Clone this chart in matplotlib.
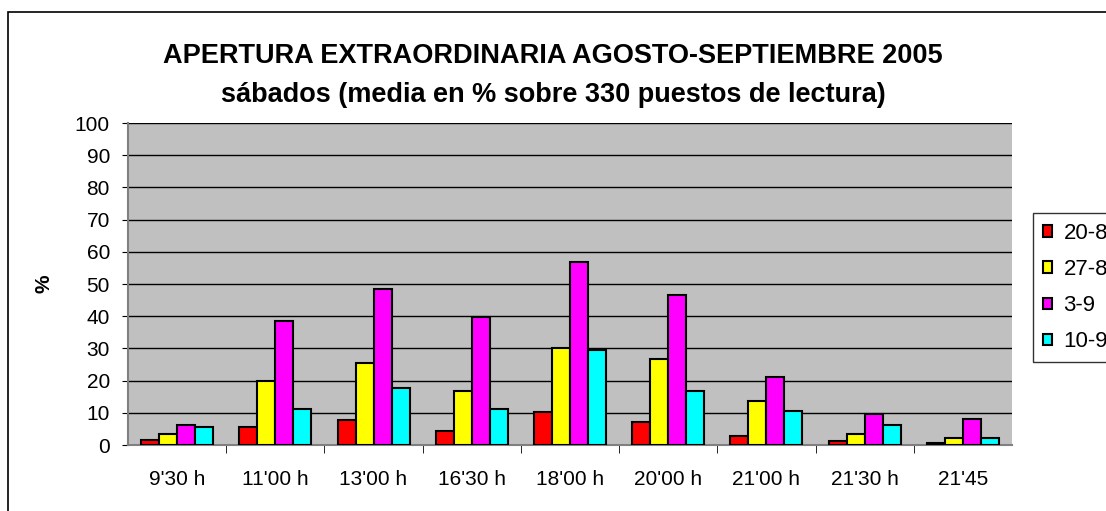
import matplotlib.pyplot as plt
import matplotlib.patches as mpatches
import numpy as np

plt.rcParams['font.family'] = ['Liberation Sans', 'DejaVu Sans']

horas = ["9'30 h", "11'00 h", "13'00 h", "16'30 h", "18'00 h", "20'00 h", "21'00 h", "21'30 h", "21'45"]
s_20_8 = [1.6, 5.7, 7.9, 4.4, 10.1, 7.2, 2.8, 1.1, 0.6]
s_27_8 = [3.4, 19.9, 25.6, 16.9, 30.1, 26.7, 13.7, 3.4, 2.3]
s_3_9 = [6.2, 38.6, 48.4, 39.8, 56.8, 46.6, 21.1, 9.6, 8.0]
s_10_9 = [5.7, 11.3, 17.6, 11.2, 29.4, 16.9, 10.7, 6.2, 2.2]

series = [("20-8", s_20_8, '#FF0000'), ("27-8", s_27_8, '#FFFF00'),
          ("3-9", s_3_9, '#FF00FF'), ("10-9", s_10_9, '#00FFFF')]

fig = plt.figure(figsize=(11.06, 5.11), dpi=100)
ax = fig.add_axes([128/1106, 1-445/511, (1012-128)/1106, (445-123)/511])
ax.set_facecolor('#C0C0C0')

x = np.arange(len(horas))
w = 0.183
for i, (name, vals, col) in enumerate(series):
    ax.bar(x + (i - 1.5)*w, vals, w, color=col, edgecolor='black', linewidth=1.5,
           label=name, zorder=3)

ax.set_xlim(-0.5, len(horas) - 0.5)
ax.set_ylim(0, 100)
ax.set_yticks(np.arange(0, 101, 10))
ax.yaxis.grid(True, color='black', linewidth=1, zorder=1)
ax.set_axisbelow(True)
ax.set_xticks(x)
ax.set_xticklabels(horas)
ax.tick_params(axis='x', length=0, labelsize=15, pad=18)
ax.set_xticks(np.arange(0.5, len(horas) - 0.5, 1), minor=True)
ax.tick_params(axis='x', which='minor', length=6, color='black', direction='out')
ax.tick_params(axis='y', length=4, labelsize=15, direction='out', pad=9)
for side in ['top', 'right']:
    ax.spines[side].set_visible(False)
ax.spines['left'].set_color('#808080')
ax.spines['left'].set_linewidth(1.5)
ax.spines['bottom'].set_color('#808080')
ax.spines['bottom'].set_linewidth(1.5)

ax.set_ylabel('%', fontsize=15, fontweight='bold', labelpad=15)

fig.text(0.5, 1-56/511, 'APERTURA EXTRAORDINARIA AGOSTO-SEPTIEMBRE 2005',
         ha='center', va='center', fontsize=19.5, fontweight='bold')
fig.text(0.5, 1-95/511, 'sábados (media en % sobre 330 puestos de lectura)',
         ha='center', va='center', fontsize=19.5, fontweight='bold')

# marco exterior del gráfico
fig.patches.append(mpatches.Rectangle((8/1106, -0.1), 1.2, 1-12/511+0.1,
                                      transform=fig.transFigure, fill=False,
                                      edgecolor='black', linewidth=1.2))

leg = fig.legend(loc='upper left', bbox_to_anchor=(1033/1106, 1-213/511),
                 fontsize=16, frameon=True, fancybox=False, handlelength=0.42,
                 handleheight=0.42, handletextpad=0.5, labelspacing=0.68,
                 borderpad=0.45, borderaxespad=0)
leg.get_frame().set_edgecolor('black')
leg.get_frame().set_linewidth(1.0)

fig.savefig('out.png', dpi=100)
